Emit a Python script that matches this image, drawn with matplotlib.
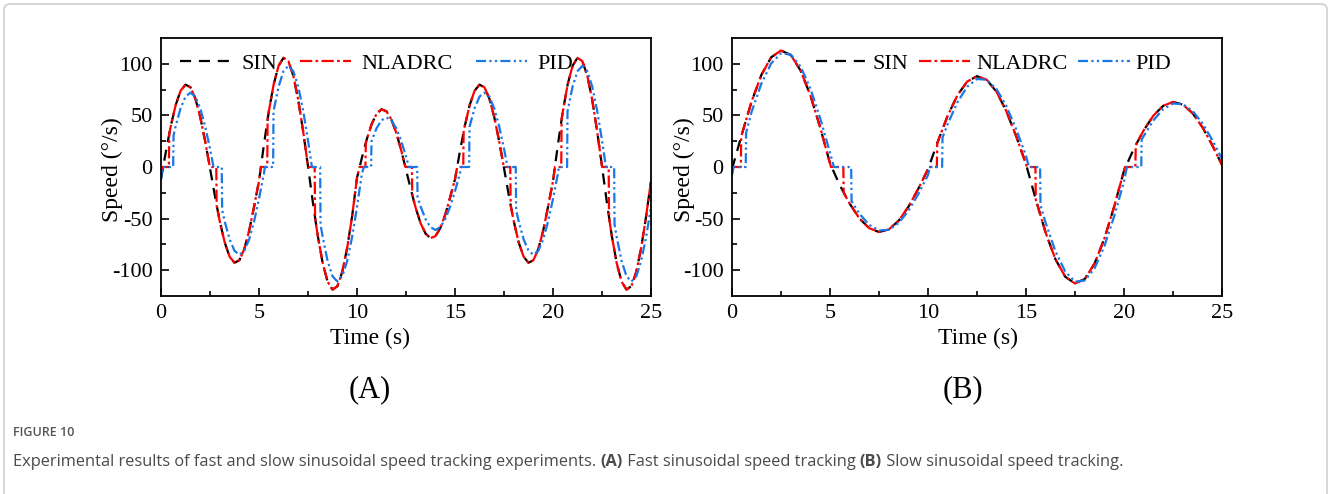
import numpy as np
import matplotlib
matplotlib.use("Agg")
import matplotlib.pyplot as plt
from matplotlib.patches import FancyBboxPatch
from matplotlib.transforms import IdentityTransform

# ---- data ----
# (A) fast sinusoid
sin_a_t = np.arange(0, 25.001, 0.25)
sin_a = [-11.9, 15.0, 39.8, 60.1, 73.9, 79.8, 77.3, 66.5, 48.6, 25.3,
         -1.1, -28.0, -52.8, -73.1, -86.9, -92.8, -90.3, -79.5, -61.6, -38.3,
         -13.6, 21.5, 53.8, 80.2, 98.1, 105.8, 102.5, 88.5, 65.2, 34.9,
         0.6, -34.5, -66.8, -93.2, -111.1, -118.8, -115.5, -101.5, -78.2, -47.9,
         -10.4, 9.0, 27.0, 41.7, 51.6, 55.9, 54.0, 46.3, 33.3, 16.5,
         -2.6, -22.0, -40.0, -54.7, -64.6, -68.9, -67.0, -59.3, -46.3, -29.5,
         -11.9, 15.0, 39.8, 60.1, 73.9, 79.8, 77.3, 66.5, 48.6, 25.3,
         -1.1, -28.0, -52.8, -73.1, -86.9, -92.8, -90.3, -79.5, -61.6, -38.3,
         -13.6, 21.5, 53.8, 80.2, 98.1, 105.8, 102.5, 88.5, 65.2, 34.9,
         0.6, -34.5, -66.8, -93.2, -111.1, -118.8, -115.5, -101.5, -78.2, -47.9,
         -13.6]

nladrc_a_t = [0, 0.06, 0.4, 0.42, 0.5, 0.75, 1.0, 1.25, 1.5, 1.75, 2.0, 2.25, 2.49, 2.82, 2.84, 3.0, 3.25, 3.5, 3.75, 4.0, 4.25, 4.5, 4.75,
              5.0, 5.1, 5.42, 5.44, 5.5, 5.75, 6.0, 6.25, 6.5, 6.75, 7.0, 7.25, 7.5, 7.51, 7.84, 7.86, 8.0, 8.25, 8.5, 8.75, 9.0, 9.25, 9.5, 9.75,
              10.0, 10.13, 10.43, 10.45, 10.5, 10.75, 11.0, 11.25, 11.5, 11.75, 12.0, 12.25, 12.47, 12.8, 12.82, 13.0, 13.25, 13.5, 13.75, 14.0, 14.25, 14.5, 14.75,
              15.0, 15.11, 15.42, 15.44, 15.5, 15.75, 16.0, 16.25, 16.5, 16.75, 17.0, 17.25, 17.49, 17.82, 17.84, 18.0, 18.25, 18.5, 18.75, 19.0, 19.25, 19.5, 19.75,
              20.0, 20.1, 20.42, 20.44, 20.5, 20.75, 21.0, 21.25, 21.5, 21.75, 22.0, 22.25, 22.5, 22.51, 22.84, 22.86, 23.0, 23.25, 23.5, 23.75, 24.0, 24.25, 24.5, 24.75, 25.0]
nladrc_a = [-6, 0, 0, 32.3, 39.8, 60.1, 73.9, 79.8, 77.3, 66.5, 48.6, 25.3, 0, 0, -37.4, -52.8, -73.1, -86.9, -92.8, -90.3, -79.5, -61.6, -38.3,
            -13.6, 0, 0, 46.5, 53.8, 80.2, 98.1, 105.8, 102.5, 88.5, 65.2, 34.9, 0.6, 0, 0, -49.2, -66.8, -93.2, -111.1, -118.8, -115.5, -101.5, -78.2, -47.9,
            -10.4, 0, 0, 23.6, 27.0, 41.7, 51.6, 55.9, 54.0, 46.3, 33.3, 16.5, 0, 0, -27.3, -40.0, -54.7, -64.6, -68.9, -67.0, -59.3, -46.3, -29.5,
            -11.9, 0, 0, 33.9, 39.8, 60.1, 73.9, 79.8, 77.3, 66.5, 48.6, 25.3, 0, 0, -37.4, -52.8, -73.1, -86.9, -92.8, -90.3, -79.5, -61.6, -38.3,
            -13.6, 0, 0, 46.5, 53.8, 80.2, 98.1, 105.8, 102.5, 88.5, 65.2, 34.9, 0.6, 0, 0, -49.2, -66.8, -93.2, -111.1, -118.8, -115.5, -101.5, -78.2, -47.9, -13.6]

pid_a_t = [0, 0.06, 0.62, 0.64, 0.75, 1.0, 1.25, 1.5, 1.75, 2.0, 2.25, 2.5, 2.68, 3.1, 3.12, 3.25, 3.5, 3.75, 4.0, 4.25, 4.5, 4.75, 5.0,
           5.25, 5.3, 5.72, 5.74, 6.0, 6.25, 6.5, 6.75, 7.0, 7.25, 7.5, 7.7, 8.12, 8.14, 8.25, 8.5, 8.75, 9.0, 9.25, 9.5, 9.75, 10.0,
           10.25, 10.35, 10.72, 10.74, 11.0, 11.25, 11.5, 11.75, 12.0, 12.25, 12.5, 12.65, 13.07, 13.09, 13.25, 13.5, 13.75, 14.0, 14.25, 14.5, 14.75, 15.0,
           15.25, 15.32, 15.72, 15.74, 16.0, 16.25, 16.5, 16.75, 17.0, 17.25, 17.5, 17.68, 18.1, 18.12, 18.25, 18.5, 18.75, 19.0, 19.25, 19.5, 19.75, 20.0,
           20.25, 20.3, 20.72, 20.74, 21.0, 21.25, 21.5, 21.75, 22.0, 22.25, 22.5, 22.7, 23.12, 23.14, 23.25, 23.5, 23.75, 24.0, 24.25, 24.5, 24.75, 25.0]
pid_a = [-12, 0, 0, 30.5, 39.7, 57.0, 68.2, 72.0, 68.2, 57.0, 39.7, 17.8, 0, 0, -41.7, -52.7, -70.0, -81.2, -85.0, -81.2, -70.0, -52.7, -30.8,
         -6.5, 0, 0, 53.9, 78.0, 92.9, 98.0, 92.9, 78.0, 55.0, 25.8, 0, 0, -55.7, -67.9, -91.0, -105.9, -111.0, -105.9, -91.0, -67.9, -38.8,
         -6.5, 0, 0, 25.0, 37.6, 45.3, 48.0, 45.3, 37.6, 25.5, 10.3, 0, 0, -29.1, -38.5, -50.6, -58.3, -61.0, -58.3, -50.6, -38.5, -23.3,
         -6.5, 0, 0, 38.9, 57.0, 68.2, 72.0, 68.2, 57.0, 39.7, 17.8, 0, 0, -41.7, -52.7, -70.0, -81.2, -85.0, -81.2, -70.0, -52.7, -30.8,
         -6.5, 0, 0, 53.9, 78.0, 92.9, 98.0, 92.9, 78.0, 55.0, 25.8, 0, 0, -55.7, -67.9, -91.0, -105.9, -111.0, -105.9, -91.0, -67.9, -38.8]

# (B) slow sinusoid
sin_b_t = np.arange(0, 25.001, 0.5)
sin_b = [-2.0, 31.5, 63.5, 89.3, 106.3, 112.9, 108.5, 93.5, 69.3, 38.3,
         3.5, -17.6, -35.4, -49.8, -59.3, -63.0, -60.5, -52.1, -38.6, -21.3,
         -2.0, 24.6, 49.5, 69.5, 82.8, 88.0, 84.5, 72.8, 53.9, 29.8,
         2.8, -31.5, -63.5, -89.3, -106.3, -112.9, -108.5, -93.5, -69.3, -38.3,
         -3.5, 17.6, 35.4, 49.8, 59.3, 63.0, 60.5, 52.1, 38.6, 21.3,
         2.0]

nladrc_b_t = [0, 0.05, 0.45, 0.47, 1.0, 1.5, 2.0, 2.5, 3.0, 3.5, 4.0, 4.5, 5.0, 5.05, 5.68, 5.7, 6.0, 6.5, 7.0, 7.5, 8.0, 8.5, 9.0, 9.5, 10.0,
              10.05, 10.45, 10.47, 10.5, 11.0, 11.5, 12.0, 12.5, 13.0, 13.5, 14.0, 14.5, 15.0, 15.05, 15.48, 15.5, 16.0, 16.5, 17.0, 17.5, 18.0, 18.5, 19.0, 19.5, 20.0,
              20.05, 20.58, 20.6, 21.0, 21.5, 22.0, 22.5, 23.0, 23.5, 24.0, 24.5, 25.0]
nladrc_b = [-3, 0, 0, 29.5, 63.5, 89.3, 106.3, 112.9, 108.5, 93.5, 69.3, 38.3, 3.5, 0, 0, -25.0, -35.4, -49.8, -59.3, -63.0, -60.5, -52.1, -38.6, -21.3, -2.0,
            0, 0, 22.9, 24.6, 49.5, 69.5, 82.8, 88.0, 84.5, 72.8, 53.9, 29.8, 2.8, 0, 0, -31.5, -63.5, -89.3, -106.3, -112.9, -108.5, -93.5, -69.3, -38.3, -3.5,
            0, 0, 21.3, 35.4, 49.8, 59.3, 63.0, 60.5, 52.1, 38.6, 21.3, 2.0]

pid_b_t = [0, 0.08, 0.7, 0.72, 1.0, 1.5, 2.0, 2.5, 3.0, 3.5, 4.0, 4.5, 5.0, 5.2, 6.08, 6.1, 6.5, 7.0, 7.5, 8.0, 8.5, 9.0, 9.5, 10.0,
           10.1, 10.72, 10.74, 11.0, 11.5, 12.0, 12.5, 13.0, 13.5, 14.0, 14.5, 15.0, 15.15, 15.72, 15.74, 16.0, 16.5, 17.0, 17.5, 18.0, 18.5, 19.0, 19.5, 20.0,
           20.15, 20.88, 20.9, 21.0, 21.5, 22.0, 22.5, 23.0, 23.5, 24.0, 24.5, 25.0]
pid_b = [-8, 0, 0, 33.0, 53.5, 80.9, 100.4, 110.1, 109.0, 97.3, 76.0, 47.3, 13.9, 0, 0, -33.2, -45.2, -56.1, -61.5, -60.9, -54.3, -42.4, -26.4, -7.8,
         0, 0, 28.6, 41.4, 62.7, 77.8, 85.3, 84.5, 75.4, 58.9, 36.6, 10.8, 0, 0, -37.2, -54.0, -81.6, -101.3, -111.1, -110.0, -98.1, -76.7, -47.7, -14.0,
         0, 0, 26.4, 29.9, 45.2, 56.1, 61.5, 60.9, 54.3, 42.4, 26.4, 7.8]

x_ticks = [0, 5, 10, 15, 20, 25]
y_ticks = [-100, -50, 0, 50, 100]
series_names = ["SIN", "NLADRC", "PID"]
panel_names = ["(A)", "(B)"]
caption_parts = [("Experimental results of fast and slow sinusoidal speed tracking experiments. ", "normal"),
                 ("(A)", "bold"),
                 (" Fast sinusoidal speed tracking ", "normal"),
                 ("(B)", "bold"),
                 (" Slow sinusoidal speed tracking.", "normal")]

W, H = 1328, 494
plt.rcParams["font.family"] = ["Liberation Serif", "DejaVu Serif"]
plt.rcParams["axes.unicode_minus"] = False

fig = plt.figure(figsize=(W / 100, H / 100), dpi=100)
fig.patch.set_facecolor("white")

# light frame round the whole figure (open at the bottom edge)
frame = FancyBboxPatch((4, -20), W - 5, H - 4 + 20, boxstyle="round,pad=0,rounding_size=6",
                       transform=IdentityTransform(), facecolor="none", edgecolor="#cfcfcf", lw=1.2)
fig.patches.append(frame)

styles = [dict(color="black", dashes=(5, 3.5)),
          dict(color="#ff0000", dashes=(5.5, 1.5, 1.2, 1.5)),
          dict(color="#1a78e6", dashes=(4.5, 1.5, 1, 1.5, 1, 1.5))]

panels = [
    dict(left=161, data=[(sin_a_t, sin_a), (nladrc_a_t, nladrc_a), (pid_a_t, pid_a)],
         leg_x=0.039, colsp=1.05, htp=0.45, xlab_x=0.427, ylab_x=-0.078, tag_x=370),
    dict(left=732, data=[(sin_b_t, sin_b), (nladrc_b_t, nladrc_b), (pid_b_t, pid_b)],
         leg_x=0.171, colsp=0.5, htp=0.25, xlab_x=0.502, ylab_x=-0.076, tag_x=963),
]

ax_w, ax_top, ax_bot = 490, 38, 296
for i, p in enumerate(panels):
    ax = fig.add_axes([p["left"] / W, 1 - ax_bot / H, ax_w / W, (ax_bot - ax_top) / H])
    for (t, v), name, st in zip(p["data"], series_names, styles):
        ax.plot(t, v, lw=1.6, label=name, **st)
    ax.set_xlim(0, 25)
    ax.set_ylim(-125, 125)
    ax.set_xticks(x_ticks)
    ax.set_yticks(y_ticks)
    ax.set_xticks([2.5, 7.5, 12.5, 17.5, 22.5], minor=True)
    ax.set_yticks([-75, -25, 25, 75], minor=True)
    ax.tick_params(which="both", direction="in", top=False, right=False, width=1.2, labelsize=16, pad=6)
    ax.tick_params(which="major", length=6)
    ax.tick_params(which="minor", length=3.5)
    for s in ax.spines.values():
        s.set_linewidth(1.3)
    ax.set_xlabel("Time (s)", fontsize=17)
    ax.set_ylabel("Speed (°/s)", fontsize=17)
    ax.xaxis.set_label_coords(p["xlab_x"], -0.125)
    ax.yaxis.set_label_coords(p["ylab_x"], 0.49)
    ax.legend(loc="center left", bbox_to_anchor=(p["leg_x"], 0.9), ncol=3, frameon=False,
              fontsize=16, handlelength=2.3, handletextpad=p["htp"], columnspacing=p["colsp"],
              borderpad=0, borderaxespad=0)
    fig.text(p["tag_x"] / W, 1 - 390 / H, panel_names[i], fontsize=22, ha="center", va="center")

# caption
fig.text(13 / W, 1 - 432 / H, "FIGURE 10", family="Open Sans", fontsize=9, fontweight="semibold",
         color="#555555", va="center")
fig.canvas.draw()
r = fig.canvas.get_renderer()
x = 13
for txt, wgt in caption_parts:
    t = fig.text(x / W, 1 - 462 / H, txt, family="Open Sans", fontsize=11.8, fontweight=wgt,
                 color="#4a4a4a", va="center")
    x = t.get_window_extent(r).x1

fig.savefig("out.png", dpi=100, facecolor="white")
